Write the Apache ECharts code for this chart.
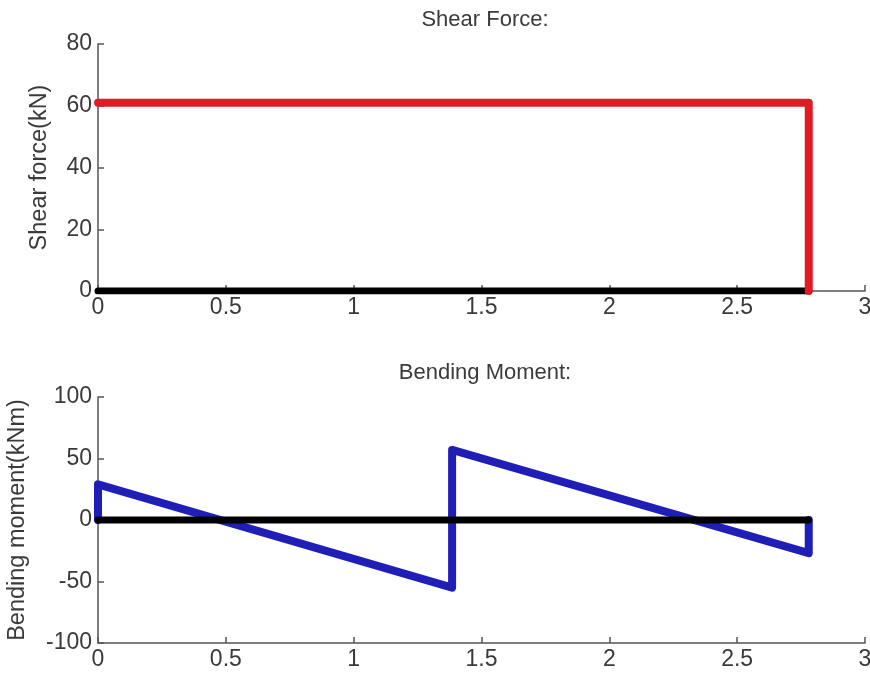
<!DOCTYPE html>
<html>
<head>
<meta charset="utf-8">
<script src="https://cdn.jsdelivr.net/npm/echarts@6/dist/echarts.min.js"></script>
<style>html,body{margin:0;padding:0;background:#fff}#c{width:870px;height:674px}</style>
</head>
<body>
<div id="c"></div>
<script>
// Data
const xTicks = ["0", "0.5", "1", "1.5", "2", "2.5", "3"];
const shearX = [0, 2.78, 2.78];
const shearY = [61, 61, 0];
const baseX = [0, 2.78];
const baseY = [0, 0];
const momentX = [0, 0, 1.385, 1.385, 2.78, 2.78];
const momentY = [0, 29, -55, 57, -27, 0];
const shearTicks = [0, 20, 40, 60, 80];
const momentTicks = [-100, -50, 0, 50, 100];

const zip = (xs, ys) => xs.map((x, i) => [x, ys[i]]);
const font = 'Liberation Sans, Arial, sans-serif';
const txt = '#3a3a3a';
const axisCol = '#555';

function xAxis(gi) {
  return {
    type: 'value', gridIndex: gi, min: 0, max: 3, interval: 0.5,
    axisLine: { show: true, onZero: false, lineStyle: { color: axisCol, width: 1.5 } },
    axisTick: { show: true, inside: true, length: 6, lineStyle: { color: axisCol, width: 1.5 } },
    axisLabel: { color: txt, fontSize: 23, fontFamily: font, margin: 5,
      formatter: v => xTicks[Math.round(v / 0.5)] },
    splitLine: { show: false }
  };
}
function yAxis(gi, ticks, name, gap) {
  return {
    type: 'value', gridIndex: gi, min: ticks[0], max: ticks[ticks.length - 1],
    interval: ticks[1] - ticks[0],
    name: name, nameLocation: 'middle', nameRotate: 90, nameGap: gap,
    nameTextStyle: { color: txt, fontSize: 23.5, fontFamily: font },
    axisLine: { show: true, onZero: false, lineStyle: { color: axisCol, width: 1.5 } },
    axisTick: { show: true, inside: true, length: 6, lineStyle: { color: axisCol, width: 1.5 } },
    axisLabel: { color: txt, fontSize: 23, fontFamily: font, margin: 6 },
    splitLine: { show: false }
  };
}
function ln(gi, data, color, width, z) {
  return {
    type: 'line', xAxisIndex: gi, yAxisIndex: gi, data: data, showSymbol: false,
    symbol: 'none', animation: false, z: z,
    lineStyle: { color: color, width: width, cap: 'round', join: 'round' }
  };
}

const chart = echarts.init(document.getElementById('c'), null, { renderer: 'canvas' });
chart.setOption({
  animation: false,
  backgroundColor: '#fff',
  title: [
    { text: 'Shear Force:', left: 480, top: 4, textAlign: 'center',
      textStyle: { color: txt, fontSize: 22, fontWeight: 'normal', fontFamily: font } },
    { text: 'Bending Moment:', left: 480, top: 357, textAlign: 'center',
      textStyle: { color: txt, fontSize: 22, fontWeight: 'normal', fontFamily: font } }
  ],
  grid: [
    { left: 98, top: 44, width: 767, height: 247, outerBoundsMode: 'none', containLabel: false },
    { left: 98, top: 397, width: 767, height: 246, outerBoundsMode: 'none', containLabel: false }
  ],
  xAxis: [xAxis(0), xAxis(1)],
  yAxis: [
    yAxis(0, shearTicks, 'Shear force(kN)', 46),
    yAxis(1, momentTicks, 'Bending moment(kNm)', 68)
  ],
  series: [
    ln(0, zip(baseX, baseY), '#000000', 7, 2),
    ln(0, zip(shearX, shearY), '#e01b22', 8, 3),
    ln(1, zip(momentX, momentY), '#1f1fb8', 8, 2),
    ln(1, zip(baseX, baseY), '#000000', 7, 3)
  ]
});
</script>
</body>
</html>
